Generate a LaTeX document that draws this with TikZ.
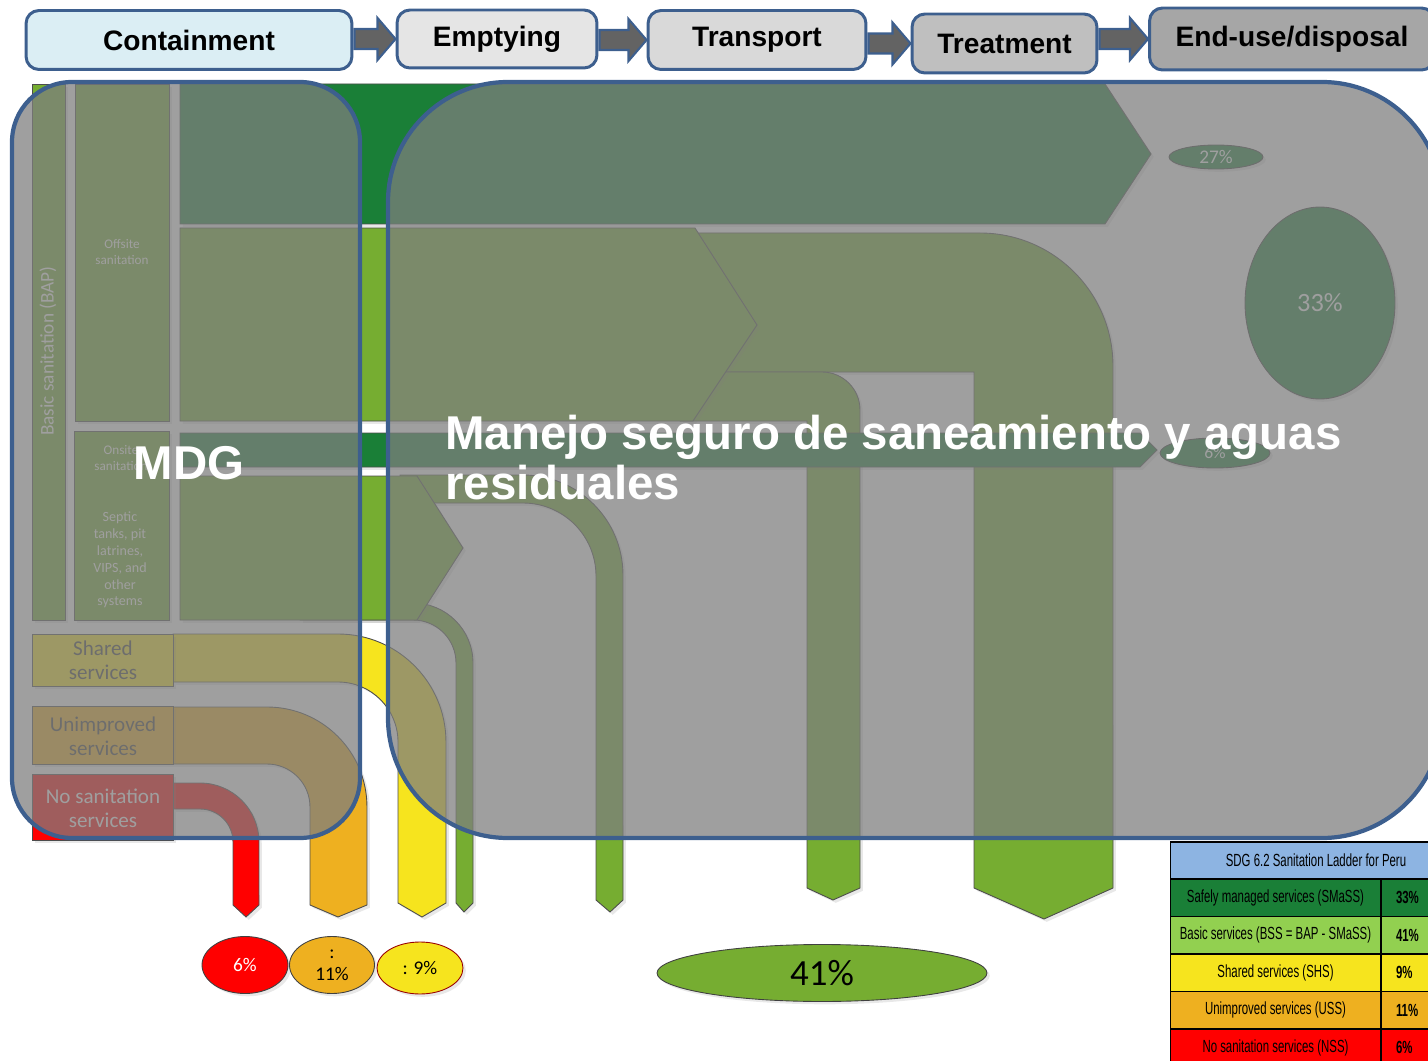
\documentclass[tikz,border=0pt]{standalone}
\usepackage{fontspec}
\setmainfont{Liberation Sans}
\newfontfamily\calfont{Carlito}
\newfontfamily\narrowfont[FakeStretch=0.65]{Liberation Sans}
\usetikzlibrary{shapes.geometric,calc,shadows}

\definecolor{darkgreen}{RGB}{26,127,55}
\definecolor{flowgreen}{RGB}{118,173,49}
\definecolor{flowyellow}{RGB}{246,228,30}
\definecolor{floworange}{RGB}{238,176,32}
\definecolor{frameblue}{RGB}{61,95,142}
\definecolor{veilgray}{RGB}{126,126,126}
\definecolor{arrowgray}{RGB}{99,99,99}
\definecolor{ladderblue}{RGB}{141,180,226}
\definecolor{laddergreen}{RGB}{146,208,80}

% block arrow between two stage boxes
\newcommand{\stagearrow}[2]{%
  \filldraw[fill=arrowgray, draw=frameblue, line width=1.2pt]
    ($(#1.east |- #2.west)+(1,-10)$) -- ($(#2.west)+(-18,-10)$) -- ($(#2.west)+(-18,-21)$)
    -- (#2.west) -- ($(#2.west)+(-18,21)$) -- ($(#2.west)+(-18,10)$)
    -- ($(#1.east |- #2.west)+(1,10)$) -- cycle;}

\begin{document}
\begin{tikzpicture}[x=0.02cm, y=-0.02cm,
  stage/.style={draw=frameblue, line width=1.7pt, rounded corners=0.26cm, inner sep=0pt,
    minimum height=1.18cm, font=\bfseries\fontsize{16}{19}\selectfont},
  flow/.style={draw=black!70, line width=0.5pt,
    drop shadow={opacity=0.18, shadow xshift=1.6pt, shadow yshift=-1.6pt}},
  tag/.style={font=\calfont\fontsize{7.5}{9.4}\selectfont, text=white, align=center, inner sep=0pt},
  rung/.style={font=\calfont\fontsize{12}{13.6}\selectfont, text=black!75, align=center, inner sep=0pt},
  pct/.style={ellipse, draw=black!75, line width=0.5pt, inner sep=0pt, font=\calfont\fontsize{11}{12.5}\selectfont,
    drop shadow={opacity=0.18, shadow xshift=1.6pt, shadow yshift=-1.6pt}},
  veil/.style={fill=veilgray, fill opacity=0.74, draw=frameblue, line width=2.4pt},
  bigword/.style={text=white, font=\bfseries\fontsize{27}{28.5}\selectfont, inner sep=0pt},
  cell/.style={draw=black, line width=0.6pt, inner sep=0pt, minimum height=0.75cm,
    font=\narrowfont\fontsize{10}{11}\selectfont},
  cellval/.style={cell, minimum width=1.62cm, text width=1.62cm, align=left,
    font=\narrowfont\bfseries\fontsize{10}{11}\selectfont},
]
\useasboundingbox (0,0) rectangle (1428,1061);
\clip (0,0) rectangle (1428,1061);

% service chain
\node[stage, fill={rgb,255:red,219;green,238;blue,244}, minimum width=6.52cm] (contain) at (189,40) {Containment};
\node[stage, fill={rgb,255:red,229;green,229;blue,229}, minimum width=4cm, minimum height=1.16cm] (empty) at (497,39) {Emptying};
\node[stage, fill={rgb,255:red,217;green,217;blue,217}, minimum width=4.36cm] (transport) at (757,40) {Transport};
\node[stage, fill={rgb,255:red,191;green,191;blue,191}, minimum width=3.7cm] (treat) at (1004.5,43.5) {Treatment};
\node[stage, fill={rgb,255:red,166;green,166;blue,166}, minimum width=5.7cm, minimum height=1.24cm] (enduse) at (1292,39) {End-use/disposal};
\stagearrow{contain}{empty}
\stagearrow{empty}{transport}
\stagearrow{transport}{treat}
\stagearrow{treat}{enduse}

% basic sanitation column
\draw[flow, fill=flowgreen] (32,84) rectangle (65,620);
\node[tag, rotate=90, font=\calfont\fontsize{11}{12}\selectfont] (baplabel) at (48,351) {Basic sanitation (BAP)};
\draw[flow, fill=flowgreen] (75,84) rectangle (169,421);
\node[tag] (offsite) at (122,252) {Offsite\\sanitation};
\draw[flow, fill=flowgreen] (74,431) rectangle (169,620);
\node[tag] (onsite) at (121,458) {Onsite\\sanitation};
\node[tag, font=\calfont\fontsize{8}{9.6}\selectfont] (septic) at (120,560) {Septic\\tanks, pit\\latrines,\\VIPS, and\\other\\systems};

% safely managed offsite flow
\draw[flow, fill=darkgreen] (180,84) -- (1105,84) -- (1151,154) -- (1105,224) -- (180,224) -- cycle;

% offsite flows bending down
\draw[flow, fill=flowgreen] (690,233) -- (980,233) arc[start angle=90, end angle=0, radius=2.66cm]
  -- (1113,888) -- (1044,919) -- (974,888) -- (974,372) -- (690,372) -- cycle;
\draw[flow, fill=flowgreen] (680,372) -- (822,372) arc[start angle=90, end angle=0, radius=0.76cm]
  -- (860,888) -- (833,900) -- (807,888) -- (807,421) -- (680,421) -- cycle;
\draw[flow, fill=flowgreen] (180,228) -- (695,228) -- (757,325) -- (693,421) -- (180,421) -- cycle;

% safely managed onsite flow
\draw[flow, fill=darkgreen] (180,433) -- (1140,433) -- (1157,450) -- (1140,467) -- (180,467) -- cycle;

% onsite flows bending down
\draw[flow, fill=flowgreen] (400,475) -- (523,475) arc[start angle=90, end angle=0, radius=2cm]
  -- (623,900) -- (610,912) -- (596,900) -- (596,576) arc[start angle=0, end angle=90, radius=1.46cm]
  -- (400,503) -- cycle;
\draw[flow, fill=flowgreen] (300,603) -- (413,603) arc[start angle=90, end angle=0, radius=1.2cm]
  -- (473,903) -- (464,912) -- (456,903) -- (456,663) arc[start angle=0, end angle=90, radius=0.86cm]
  -- (300,620) -- cycle;
\draw[flow, fill=flowgreen] (180,476) -- (417,476) -- (463,548) -- (417,620) -- (180,620) -- cycle;

% shared services
\draw[flow, fill=flowyellow] (173,634) -- (338,634) arc[start angle=90, end angle=0, radius=2.16cm]
  -- (446,903) -- (422,917) -- (398,903) -- (398,742) arc[start angle=0, end angle=90, radius=1.2cm]
  -- (173,682) -- cycle;
\draw[flow, fill=flowyellow] (32,634) rectangle (173,686);
\node[rung] (shared) at (103,660) {Shared\\services};

% unimproved services
\draw[flow, fill=floworange] (173,707) -- (267,707) arc[start angle=90, end angle=0, radius=2cm]
  -- (367,905) -- (338,917) -- (310,905) -- (310,807) arc[start angle=0, end angle=90, radius=0.86cm]
  -- (173,764) -- cycle;
\draw[flow, fill=floworange] (32,706) rectangle (173,764);
\node[rung] (unimproved) at (103,736) {Unimproved\\services};

% no sanitation services
\draw[flow, fill=red] (173,783) -- (200,783) arc[start angle=90, end angle=0, radius=1.18cm]
  -- (259,905) -- (246,917) -- (233,905) -- (233,842) arc[start angle=0, end angle=90, radius=0.66cm]
  -- (173,809) -- cycle;
\draw[flow, fill=red] (32,774) rectangle (173,840);
\node[rung, text=white] (nosan) at (103,808) {No sanitation\\services};

% end-use shares
\node[pct, fill=darkgreen, text=white, minimum width=1.88cm, minimum height=0.48cm] (p27) at (1216,157) {27\%};
\node[pct, fill=darkgreen, text=white, minimum width=3cm, minimum height=3.84cm, font=\calfont\fontsize{15}{16}\selectfont] (p33) at (1320,303) {33\%};
\node[pct, fill=darkgreen, text=white, minimum width=2.2cm, minimum height=0.6cm, font=\calfont\fontsize{10}{11}\selectfont] (p6on) at (1215,453) {6\%};

% veils
\filldraw[veil, rounded corners=1.2cm] (12,82) rectangle (360,838);
\filldraw[veil, rounded corners=2.4cm] (388,82) rectangle (1442,838);

% ladder shares
\node[pct, fill=red, text=white, minimum width=1.72cm, minimum height=1.14cm] (nss) at (245,965) {\raisebox{-0.45em}{6\%}};
\node[pct, fill=floworange, minimum width=1.7cm, minimum height=1.14cm, align=center] (uss) at (332,965) {:\\11\%};
\node[pct, fill=flowyellow, draw=red!60!black, minimum width=1.72cm, minimum height=1.04cm] (shs) at (420,968) {: 9\%};
\node[pct, fill=flowgreen, minimum width=6.6cm, minimum height=1.14cm, font=\calfont\fontsize{21}{22}\selectfont] (bss) at (822,973) {41\%};

% ladder table
\node[cell, fill=ladderblue, minimum width=5.84cm, minimum height=0.74cm] (ladder) at (1316,860.5) {SDG 6.2 Sanitation Ladder for Peru};
\node[cell, fill=darkgreen, minimum width=4.22cm] (smass) at (1275.5,897.75) {Safely managed services (SMaSS)};
\node[cellval, fill=darkgreen] (smassval) at (1421.5,897.75) {\hspace{0.3cm}33\%};
\node[cell, fill=laddergreen, minimum width=4.22cm] (bsslabel) at (1275.5,935.25) {Basic services (BSS = BAP - SMaSS)};
\node[cellval, fill=laddergreen] (bssval) at (1421.5,935.25) {\hspace{0.3cm}41\%};
\node[cell, fill=flowyellow, minimum width=4.22cm] (shslabel) at (1275.5,972.75) {Shared services (SHS)};
\node[cellval, fill=flowyellow] (shsval) at (1421.5,972.75) {\hspace{0.3cm}9\%};
\node[cell, fill=floworange, minimum width=4.22cm] (usslabel) at (1275.5,1010.25) {Unimproved services (USS)};
\node[cellval, fill=floworange] (ussval) at (1421.5,1010.25) {\hspace{0.3cm}11\%};
\node[cell, fill=red, minimum width=4.22cm] (nsslabel) at (1275.5,1047.75) {No sanitation services (NSS)};
\node[cellval, fill=red] (nssval) at (1421.5,1047.75) {\hspace{0.3cm}6\%};

% titles
\node[bigword] (mdg) at (189,463) {MDG};
\node[bigword, anchor=west, align=left] (safe) at (445,458) {Manejo seguro de saneamiento y aguas\\residuales};
\end{tikzpicture}
\end{document}
